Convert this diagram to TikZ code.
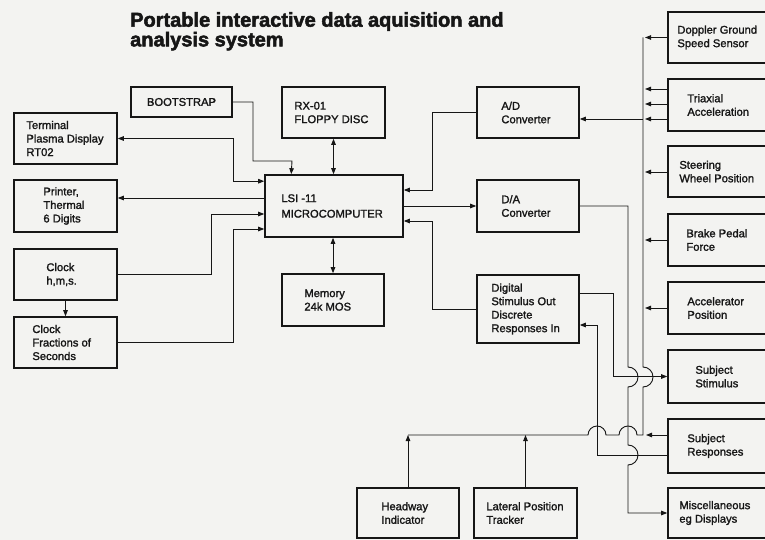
\documentclass[tikz,border=0pt]{standalone}
\usepackage{fontspec}
\setmainfont{Liberation Sans}
\newfontfamily\boxfont{Liberation Sans}[FakeBold=1.6]
\newfontfamily\titlefont{Liberation Sans}[BoldFeatures={FakeBold=2.5}]
\usetikzlibrary{arrows.meta,calc}
\definecolor{paper}{RGB}{243,243,241}
\definecolor{ink}{RGB}{22,22,22}
\begin{document}
\begin{tikzpicture}[x=1pt,y=1pt,
  blk/.style={draw=ink, line width=1.6pt, inner sep=0pt},
  txt/.style={inner sep=0pt, align=left, font=\boxfont\fontsize{11.2}{13.5}\selectfont, text=ink, anchor=west},
  wire/.style={draw=ink, line width=0.9pt},
  arr/.style={wire, -{Triangle[length=6pt,width=4.5pt]}},
  darr/.style={wire, {Triangle[length=6pt,width=4.5pt]}-{Triangle[length=6pt,width=4.5pt]}}
]
\useasboundingbox (0,0) rectangle (765,-540);
\fill[paper] (0,0) rectangle (765,-540);
\clip (0,0) rectangle (765,-540);

% title
\node[anchor=north west, inner sep=0pt, align=left, text=ink,
      font=\titlefont\bfseries\fontsize{20}{18}\selectfont] (title) at (130,-12)
  {Portable interactive data aquisition and\\analysis system};

% left column and centre
\node[blk, minimum width=101pt, minimum height=30pt, font=\boxfont\fontsize{11.2}{13.5}\selectfont, text=ink] (boot) at (181.5,-102) {BOOTSTRAP};
\node[blk, minimum width=103pt, minimum height=51pt] (floppy) at (333.5,-112.5) {};
\node[txt] (floppy-t) at ([xshift=13pt]floppy.west) {RX-01\\FLOPPY DISC};
\node[blk, minimum width=103pt, minimum height=51pt] (term) at (65.5,-138.5) {};
\node[txt] (term-t) at ([xshift=13pt]term.west) {Terminal\\Plasma Display\\RT02};
\node[blk, minimum width=103pt, minimum height=52pt] (printer) at (65.5,-206) {};
\node[txt] (printer-t) at ([xshift=30pt]printer.west) {Printer,\\Thermal\\6 Digits};
\node[blk, minimum width=103pt, minimum height=51pt] (clock1) at (65.5,-274.5) {};
\node[txt] (clock1-t) at ([xshift=33pt]clock1.west) {Clock\\h,m,s.};
\node[blk, minimum width=103pt, minimum height=51pt] (clock2) at (65.5,-342.5) {};
\node[txt] (clock2-t) at ([xshift=19pt]clock2.west) {Clock\\Fractions of\\Seconds};
\node[blk, minimum width=138pt, minimum height=62pt] (lsi) at (334,-206) {};
\node[txt, font=\boxfont\fontsize{11.2}{15.5}\selectfont] (lsi-t) at ([xshift=17pt]lsi.west) {LSI -11\\MICROCOMPUTER};
\node[blk, minimum width=102pt, minimum height=52pt] (mem) at (333,-300) {};
\node[txt] (mem-t) at ([xshift=23pt]mem.west) {Memory\\24k MOS};

% converters
\node[blk, minimum width=102pt, minimum height=51pt] (ad) at (528,-112.5) {};
\node[txt] (ad-t) at ([xshift=25pt]ad.west) {A/D\\Converter};
\node[blk, minimum width=102pt, minimum height=52pt] (da) at (528,-206) {};
\node[txt] (da-t) at ([xshift=25pt]da.west) {D/A\\Converter};
\node[blk, minimum width=102pt, minimum height=68pt] (dig) at (528,-309) {};
\node[txt] (dig-t) at ([xshift=15pt]dig.west) {Digital\\Stimulus Out\\Discrete\\Responses In};

% right column
\node[blk, minimum width=110pt, minimum height=51pt] (dop) at (723,-37.5) {};
\node[txt] (dop-t) at ([xshift=10pt]dop.west) {Doppler Ground\\Speed Sensor};
\node[blk, minimum width=110pt, minimum height=52pt] (tri) at (723,-105) {};
\node[txt] (tri-t) at ([xshift=20pt]tri.west) {Triaxial\\Acceleration};
\node[blk, minimum width=110pt, minimum height=51pt] (steer) at (723,-171.5) {};
\node[txt] (steer-t) at ([xshift=12pt]steer.west) {Steering\\Wheel Position};
\node[blk, minimum width=110pt, minimum height=52pt] (brake) at (723,-240) {};
\node[txt] (brake-t) at ([xshift=19pt]brake.west) {Brake Pedal\\Force};
\node[blk, minimum width=110pt, minimum height=52pt] (accel) at (723,-308) {};
\node[txt] (accel-t) at ([xshift=20pt]accel.west) {Accelerator\\Position};
\node[blk, minimum width=110pt, minimum height=53pt] (stim) at (723,-376.5) {};
\node[txt] (stim-t) at ([xshift=28pt]stim.west) {Subject\\Stimulus};
\node[blk, minimum width=110pt, minimum height=54pt] (resp) at (723,-446) {};
\node[txt] (resp-t) at ([xshift=20pt]resp.west) {Subject\\Responses};
\node[blk, minimum width=110pt, minimum height=50pt] (misc) at (723,-513) {};
\node[txt] (misc-t) at ([xshift=12pt]misc.west) {Miscellaneous\\eg Displays};

% bottom
\node[blk, minimum width=102pt, minimum height=50pt] (head) at (408,-513) {};
\node[txt] (head-t) at ([xshift=25pt]head.west) {Headway\\Indicator};
\node[blk, minimum width=103pt, minimum height=50pt] (lat) at (525.5,-513) {};
\node[txt] (lat-t) at ([xshift=13pt]lat.west) {Lateral Position\\Tracker};

% connectors around the microcomputer
\draw[arr] (boot.east) -- (253,-102) |- (292,-161) -- ([xshift=27pt]lsi.north west);
\draw[darr] (floppy.south) -- (floppy.south |- lsi.north);
\draw[darr] (term.east) -- (233,-138.5) |- ([yshift=-7pt]lsi.north west);
\draw[arr] (lsi.west |- 0,-198) -- (printer.east |- 0,-198);
\draw[arr] (clock1.east) -- (211,-274.5) |- (lsi.west |- 0,-214);
\draw[arr] (clock2.east) -- (233,-342.5) |- (lsi.west |- 0,-229);
\draw[arr] (clock1.south) -- (clock1.south |- clock2.north);
\draw[darr] (mem.north |- lsi.south) -- (mem.north);
\draw[arr] (ad.west) -- (432,-112.5) |- (lsi.east |- 0,-190);
\draw[arr] (lsi.east) -- (da.west);
\draw[arr] (dig.west) -- (432,-309) |- (lsi.east |- 0,-221);

% sensor bus
\coordinate (j1) at (643,-119);
\draw[arr] (dop.west) -- (645,-37.5);
\draw[arr] (tri.west |- 0,-89) -- (645,-89);
\draw[arr] (tri.west |- 0,-104) -- (645,-104);
\draw[arr] (tri.west |- 0,-119) -- (645,-119);
\draw[arr] (j1) -- (ad.east |- j1);
\draw[arr] (steer.west |- 0,-172) -- (645,-172);
\draw[arr] (brake.west) -- (645,-240);
\draw[arr] (accel.west) -- (645,-308);
\draw[arr] (resp.west |- 0,-435) -- (646,-435);
\draw[wire] (643,-37.5) -- (643,-367) arc[start angle=90,end angle=-90,radius=10]
  -- (643,-435) -- (637,-435) arc[start angle=0,end angle=180,radius=9]
  -- (606,-435) arc[start angle=0,end angle=180,radius=9] -- (head.north |- 0,-435);
\draw[arr] (head.north) -- (head.north |- 0,-435);
\draw[arr] (lat.north) -- (lat.north |- 0,-435);

% outputs
\draw[arr] (da.east) -- (628,-206) -- (628,-367) arc[start angle=90,end angle=-90,radius=10]
  -- (628,-445) arc[start angle=90,end angle=-90,radius=10] -- (628,-513) -- (misc.west);
\draw[arr] (dig.east |- 0,-293) -- (613,-293) |- (stim.west);
\draw[arr] (resp.west |- 0,-455) -- (597,-455) |- (dig.east |- 0,-325);
\end{tikzpicture}
\end{document}
